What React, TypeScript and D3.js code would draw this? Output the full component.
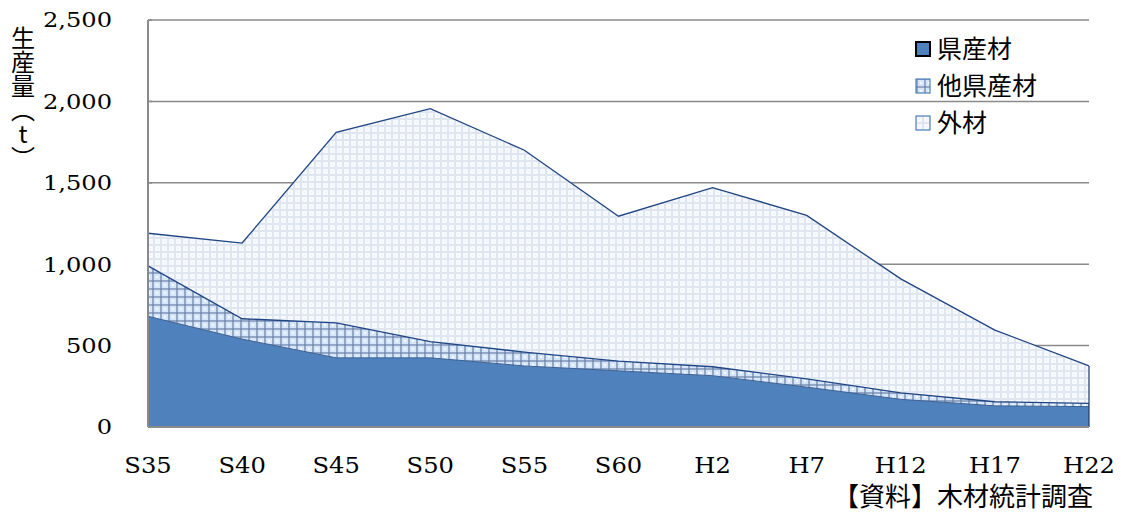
import React from "react";
import * as d3 from "d3";

const categories = ["S35", "S40", "S45", "S50", "S55", "S60", "H2", "H7", "H12", "H17", "H22"];
const kenSan = [680, 540, 425, 425, 375, 345, 315, 245, 170, 130, 125];
const taKenSan = [310, 125, 215, 100, 85, 60, 55, 50, 40, 25, 20];
const gaizai = [200, 465, 1170, 1430, 1240, 890, 1100, 1005, 700, 440, 230];
const seriesNames = ["県産材", "他県産材", "外材"];
const yTicks = [0, 500, 1000, 1500, 2000, 2500];
const yTitle = "生産量（t）";
const sourceText = "【資料】木材統計調査";

const W = 1121, H = 513;
const left = 148, right = 1089, top = 20, bottom = 427;

export default function App() {
  const x = d3.scalePoint<string>().domain(categories).range([left, right]);
  const y = d3.scaleLinear().domain([0, 2500]).range([bottom, top]);
  const rows = categories.map((c, i) => ({ cat: c, k0: kenSan[i], k1: taKenSan[i], k2: gaizai[i] }));
  const stack = d3.stack<any>().keys(["k0", "k1", "k2"]);
  const series = stack(rows);
  const area = d3.area<any>()
    .x((d) => x(d.data.cat) as number)
    .y0((d) => y(d[0]))
    .y1((d) => y(d[1]));
  const fills = ["#4f81bd", "url(#plaid)", "url(#dots)"];
  const serif = "'DejaVu Serif', 'Liberation Serif', serif";
  const cjk = "'Noto Sans CJK JP', sans-serif";
  const fmt = d3.format(",");

  return (
    <svg width={W} height={H} style={{ position: "absolute", left: 0, top: 0, background: "#fff" }}>
      <defs>
        <pattern id="dots" width="7" height="7" patternUnits="userSpaceOnUse">
          <rect width="7" height="7" fill="#e0e6ef" />
          <rect x="1" y="1" width="5" height="5" fill="#f6f9fd" />
          <rect x="3" y="3" width="1" height="1" fill="#e8edf5" />
        </pattern>
        <pattern id="plaid" width="8" height="8" patternUnits="userSpaceOnUse">
          <rect width="8" height="8" fill="#d6e5f7" />
          <rect x="0" y="0" width="2" height="8" fill="#93a7c6" />
          <rect x="0" y="0" width="8" height="2" fill="#93a7c6" />
          <rect x="0" y="0" width="2" height="2" fill="#7a8fb0" />
          <rect x="4" y="4" width="2" height="2" fill="#f5f9ff" />
        </pattern>
      </defs>
      {yTicks.map((t) => (
        <g key={t}>
          {t > 0 && <line x1={left} x2={right} y1={y(t)} y2={y(t)} stroke="#8a8a8a" strokeWidth={1.5} />}
          <line x1={left} x2={left + 4} y1={y(t)} y2={y(t)} stroke="#8a8a8a" strokeWidth={1.5} />
          <g transform={`translate(112,${y(t)}) scale(1.15,1)`}>
            <text x={0} y={0} dy="0.35em" textAnchor="end" fontFamily={serif} fontSize={21} fill="#000">
              {fmt(t)}
            </text>
          </g>
        </g>
      ))}
      {series.map((s, i) => (
        <path key={i} d={area(s) as string} fill={fills[i]} stroke="none" />
      ))}
      {series.map((s, i) => (
        <path
          key={"l" + i}
          d={d3.line<any>().x((d) => x(d.data.cat) as number).y((d) => y(d[1]))(s) as string}
          fill="none"
          stroke={i === 0 ? "#3a5f93" : "#1f4583"}
          strokeWidth={i === 0 ? 1 : 1.3}
        />
      ))}
      <line x1={right} x2={right} y1={y(series[2][10][1])} y2={bottom} stroke="#1f3a66" strokeWidth={1.2} />
      <line x1={left} x2={left} y1={top} y2={bottom} stroke="#8a8a8a" strokeWidth={2} />
      <line x1={left} x2={right} y1={bottom} y2={bottom} stroke="#8a8a8a" strokeWidth={2} />
      {categories.map((c) => (
        <g key={c} transform={`translate(${x(c)},465) scale(1.1,1)`}>
          <text x={0} y={0} dy="0.35em" textAnchor="middle" fontFamily={serif} fontSize={22} fill="#000">
            {c}
          </text>
        </g>
      ))}
      <text x={23} y={26} fontFamily={cjk} fontSize={24} fill="#000"
        style={{ writingMode: "vertical-rl", textOrientation: "upright" } as any}>
        {yTitle}
      </text>
      {seriesNames.map((n, i) => (
        <g key={n} transform={`translate(916,${49 + i * 37})`}>
          <rect x={0} y={-7} width={14} height={14} fill={fills[i]}
            stroke={i === 0 ? "#000" : "#4f81bd"} strokeWidth={i === 0 ? 2 : 1.2} />
          <text x={21} y={0} dy="0.36em" fontFamily={cjk} fontSize={25} fill="#000">{n}</text>
        </g>
      ))}
      <text x={1093} y={497} dy="0.35em" textAnchor="end" fontFamily={cjk} fontSize={26} fill="#000">
        {sourceText}
      </text>
    </svg>
  );
}
